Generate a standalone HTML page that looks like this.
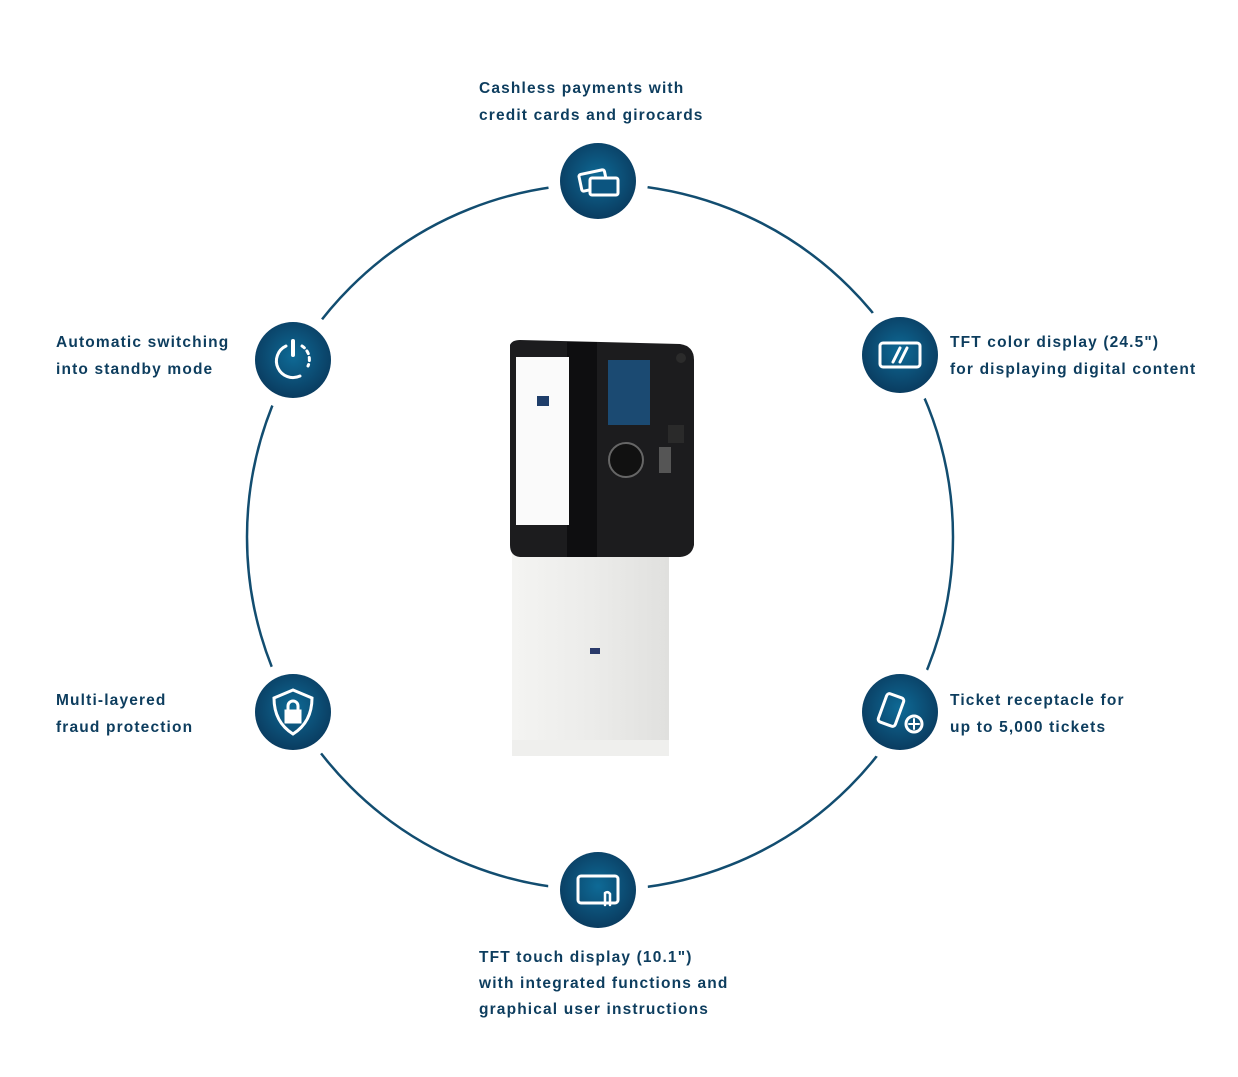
<!DOCTYPE html>
<html><head><meta charset="utf-8"><style>
html,body{margin:0;padding:0;background:#fff;}
body{width:1238px;height:1077px;position:relative;overflow:hidden;font-family:"Liberation Sans",sans-serif;}
.t{position:absolute;color:#0d3d5e;font-weight:bold;font-size:15.5px;line-height:27px;letter-spacing:1.15px;white-space:nowrap;}
</style></head><body>
<svg width="1238" height="1077" style="position:absolute;left:0;top:0">
<defs>
<radialGradient id="g" cx="50%" cy="45%" r="55%"><stop offset="0" stop-color="#0e6a96"/><stop offset="1" stop-color="#0a3c60"/></radialGradient>
<linearGradient id="base" x1="0" x2="1"><stop offset="0" stop-color="#f4f4f2"/><stop offset="0.5" stop-color="#ececea"/><stop offset="1" stop-color="#e0e0de"/></linearGradient>
</defs>
<circle cx="600" cy="537" r="353" fill="none" stroke="#124d70" stroke-width="2.5"/>
<g>
<circle cx="598" cy="181" r="50" fill="#fff"/><circle cx="598" cy="181" r="38" fill="url(#g)"/>
<circle cx="293" cy="360" r="50" fill="#fff"/><circle cx="293" cy="360" r="38" fill="url(#g)"/>
<circle cx="900" cy="355" r="50" fill="#fff"/><circle cx="900" cy="355" r="38" fill="url(#g)"/>
<circle cx="293" cy="712" r="50" fill="#fff"/><circle cx="293" cy="712" r="38" fill="url(#g)"/>
<circle cx="900" cy="712" r="50" fill="#fff"/><circle cx="900" cy="712" r="38" fill="url(#g)"/>
<circle cx="598" cy="890" r="50" fill="#fff"/><circle cx="598" cy="890" r="38" fill="url(#g)"/>
</g>
<g fill="none" stroke="#fff" stroke-width="3" stroke-linecap="round">
<rect x="580" y="172" width="26" height="17" rx="2" transform="rotate(-12 593 180)"/>
<rect x="590" y="178" width="28" height="17" rx="2" fill="#0c5580"/>
<path d="M286 346 A16 16 0 1 0 300 376"/>
<line x1="293" y1="341" x2="293" y2="355" stroke-width="4"/>
<path d="M302 346 A16 16 0 0 1 308 366" stroke-dasharray="3 4"/>
<rect x="880" y="343" width="40" height="24" rx="3"/>
<line x1="893" y1="362" x2="900" y2="348"/><line x1="900" y1="362" x2="907" y2="348"/>
<path d="M293 690 L312 698 Q312 722 293 734 Q274 722 274 698 Z"/>
<rect x="286" y="711" width="14" height="11" fill="#fff"/>
<path d="M288 711 V706 A5 5 0 0 1 298 706 V711"/>
<rect x="882" y="695" width="18" height="30" rx="3" transform="rotate(20 891 710)"/>
<circle cx="914" cy="724" r="8"/><line x1="914" y1="719" x2="914" y2="729" stroke-width="2"/><line x1="909" y1="724" x2="919" y2="724" stroke-width="2"/>
<rect x="578" y="876" width="40" height="27" rx="3"/>
<path d="M605 905 V893 M605 893 q3 -2 5 1 V905" stroke-width="2.5"/>
</g>
<rect x="512" y="542" width="157" height="212" fill="url(#base)"/>
<rect x="512" y="740" width="157" height="16" fill="#efefed"/>
<rect x="590" y="648" width="10" height="6" fill="#2a3a6a"/>
<path d="M510 345 Q512 340 520 340 L680 344 Q694 346 694 360 L694 545 Q692 556 680 557 L520 557 Q510 556 510 545 Z" fill="#1c1c1e"/>
<rect x="567" y="342" width="30" height="215" fill="#0e0e10"/>
<rect x="516" y="357" width="53" height="168" fill="#fafafa"/>
<rect x="537" y="396" width="12" height="10" fill="#1f3e6a"/>
<rect x="608" y="360" width="42" height="65" fill="#1b4a72"/>
<circle cx="626" cy="460" r="17" fill="#111" stroke="#666" stroke-width="2"/>
<rect x="668" y="425" width="16" height="18" fill="#2a2a2a"/>
<rect x="659" y="447" width="12" height="26" fill="#555"/>
<circle cx="681" cy="358" r="5" fill="#2b2b2b"/>
</svg>
<div class="t" style="left:479px;top:75px">Cashless payments with<br>credit cards and girocards</div>
<div class="t" style="left:56px;top:329px">Automatic switching<br>into standby mode</div>
<div class="t" style="left:950px;top:329px">TFT color display (24.5")<br>for displaying digital content</div>
<div class="t" style="left:56px;top:687px">Multi-layered<br>fraud protection</div>
<div class="t" style="left:950px;top:687px">Ticket receptacle for<br>up to 5,000 tickets</div>
<div class="t" style="left:479px;top:945px;line-height:26px">TFT touch display (10.1")<br>with integrated functions and<br>graphical user instructions</div>
</body></html>
